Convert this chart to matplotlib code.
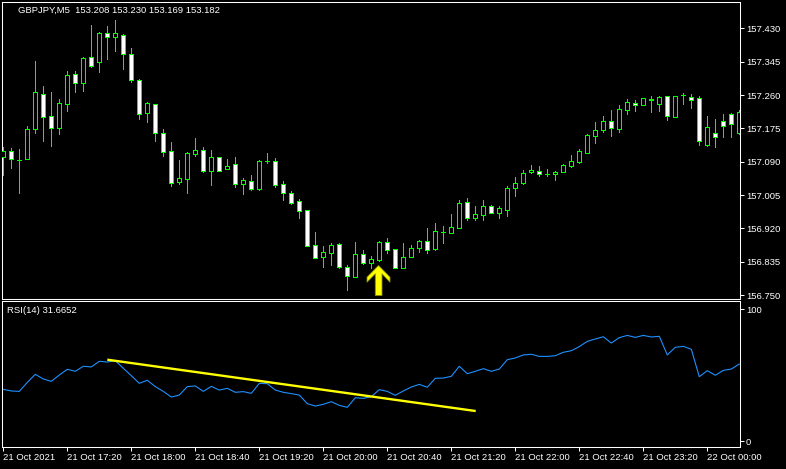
import numpy as np
import matplotlib.pyplot as plt
from matplotlib.path import Path

plt.rcParams['font.family'] = ['Liberation Sans', 'DejaVu Sans']

# GBPJPY M5 bars, 21 Oct 2021 16:40 -> 22 Oct 00:20
opens = [157.101, 157.117, 157.094, 157.098, 157.173, 157.262, 157.206, 157.177, 157.238, 157.313,
         157.290, 157.356, 157.343, 157.417, 157.407, 157.413, 157.365, 157.298, 157.213, 157.236,
         157.162, 157.116, 157.037, 157.045, 157.110, 157.120, 157.067, 157.101, 157.071, 157.083,
         157.034, 157.040, 157.020, 157.091, 157.091, 157.032, 157.009, 156.989, 156.966, 156.877,
         156.848, 156.858, 156.879, 156.821, 156.797, 156.854, 156.832, 156.840, 156.885, 156.867,
         156.820, 156.848, 156.871, 156.888, 156.868, 156.911, 156.909, 156.922, 156.986, 156.947,
         156.955, 156.976, 156.960, 156.967, 157.022, 157.035, 157.063, 157.067, 157.058, 157.058,
         157.064, 157.080, 157.090, 157.112, 157.156, 157.170, 157.193, 157.174, 157.223, 157.239,
         157.234, 157.247, 157.238, 157.257, 157.205, 157.260, 157.256, 157.252, 157.132, 157.162,
         157.194, 157.211, 157.162]
highs = [157.128, 157.125, 157.122, 157.181, 157.347, 157.283, 157.268, 157.250, 157.321, 157.321,
         157.358, 157.439, 157.421, 157.436, 157.451, 157.416, 157.379, 157.301, 157.242, 157.237,
         157.173, 157.139, 157.094, 157.115, 157.150, 157.127, 157.120, 157.101, 157.097, 157.102,
         157.048, 157.056, 157.093, 157.112, 157.099, 157.041, 157.015, 156.995, 156.966, 156.911,
         156.875, 156.882, 156.883, 156.826, 156.885, 156.865, 156.849, 156.888, 156.895, 156.868,
         156.883, 156.878, 156.889, 156.921, 156.934, 156.926, 156.957, 156.992, 156.997, 156.977,
         156.992, 156.980, 156.976, 157.028, 157.050, 157.068, 157.082, 157.079, 157.071, 157.065,
         157.083, 157.107, 157.122, 157.160, 157.191, 157.206, 157.222, 157.234, 157.250, 157.247,
         157.252, 157.257, 157.257, 157.258, 157.258, 157.264, 157.262, 157.257, 157.206, 157.199,
         157.211, 157.213, 157.222]
lows = [157.056, 157.075, 157.011, 157.097, 157.164, 157.143, 157.131, 157.161, 157.219, 157.268,
        157.271, 157.332, 157.319, 157.352, 157.373, 157.326, 157.294, 157.199, 157.192, 157.143,
        157.105, 157.029, 157.032, 157.011, 157.105, 157.064, 157.031, 157.067, 157.071, 157.026,
        157.008, 157.018, 157.018, 157.087, 157.026, 156.992, 156.982, 156.946, 156.875, 156.844,
        156.822, 156.827, 156.820, 156.763, 156.796, 156.830, 156.819, 156.836, 156.857, 156.819,
        156.819, 156.847, 156.860, 156.856, 156.864, 156.883, 156.908, 156.921, 156.941, 156.941,
        156.941, 156.958, 156.946, 156.952, 157.003, 157.034, 157.062, 157.053, 157.054, 157.044,
        157.063, 157.077, 157.086, 157.111, 157.138, 157.166, 157.156, 157.166, 157.212, 157.220,
        157.234, 157.217, 157.220, 157.197, 157.203, 157.238, 157.228, 157.133, 157.131, 157.127,
        157.154, 157.154, 157.161]
closes = [157.117, 157.098, 157.094, 157.173, 157.267, 157.205, 157.177, 157.239, 157.310, 157.290,
          157.354, 157.335, 157.418, 157.407, 157.418, 157.364, 157.297, 157.211, 157.239, 157.162,
          157.115, 157.035, 157.048, 157.111, 157.119, 157.067, 157.101, 157.067, 157.079, 157.032,
          157.042, 157.020, 157.091, 157.091, 157.031, 157.009, 156.985, 156.965, 156.876, 156.845,
          156.859, 156.877, 156.822, 156.799, 156.854, 156.832, 156.842, 156.885, 156.866, 156.820,
          156.847, 156.870, 156.888, 156.866, 156.913, 156.911, 156.923, 156.984, 156.947, 156.956,
          156.976, 156.960, 156.971, 157.022, 157.035, 157.060, 157.069, 157.058, 157.058, 157.064,
          157.082, 157.091, 157.117, 157.158, 157.170, 157.193, 157.175, 157.224, 157.241, 157.234,
          157.252, 157.249, 157.255, 157.206, 157.257, 157.260, 157.246, 157.142, 157.178, 157.154,
          157.180, 157.185, 157.217]

rsi = [39.1, 37.9, 37.6, 44.4, 50.5, 47.0, 45.2, 50.0, 54.3, 52.8,
       56.6, 56.1, 60.4, 59.8, 60.9, 55.1, 49.5, 43.7, 46.0, 41.2,
       37.6, 33.3, 34.8, 41.2, 41.7, 37.6, 41.4, 38.6, 39.9, 36.9,
       37.4, 36.1, 43.7, 43.4, 38.6, 36.9, 35.9, 34.8, 28.3, 26.5,
       27.8, 29.8, 27.0, 25.5, 32.8, 32.3, 33.6, 38.9, 37.6, 34.6,
       37.9, 40.9, 42.9, 40.7, 47.5, 47.7, 49.0, 56.6, 51.0, 52.8,
       54.8, 52.8, 54.5, 61.6, 62.9, 65.2, 65.7, 64.1, 64.1, 64.6,
       67.2, 68.4, 71.5, 75.5, 77.3, 79.0, 74.2, 78.3, 80.0, 78.5,
       80.0, 78.8, 79.3, 65.2, 71.0, 71.7, 69.5, 48.7, 53.3, 49.8,
       53.5, 54.5, 58.3]

trend_bars = [13, 59.05]
trend_rsi = [61.6, 22.7]

arrow_bar = 47
arrow_price = 156.788

price_ticks = [157.430, 157.345, 157.260, 157.175, 157.090, 157.005, 156.920, 156.835, 156.750]
rsi_ticks = [0, 100]
time_ticks = list(range(0, 89, 8))
time_labels = ['21 Oct 2021', '21 Oct 17:20', '21 Oct 18:00', '21 Oct 18:40', '21 Oct 19:20',
               '21 Oct 20:00', '21 Oct 20:40', '21 Oct 21:20', '21 Oct 22:00', '21 Oct 22:40',
               '21 Oct 23:20', '22 Oct 00:00']

chart_title = 'GBPJPY,M5  153.208 153.230 153.169 153.182'
rsi_title = 'RSI(14) 31.6652'

LIME = '#00ff00'
FS = 6.8
W, H = 786, 469


def box(l, t, r, b):
    return [l / W, 1 - b / H, (r - l) / W, (b - t) / H]


fig = plt.figure(figsize=(W / 100, H / 100), dpi=100, facecolor='black')
ax = fig.add_axes(box(2.3, 2.3, 740.3, 299))
ax_rsi = fig.add_axes(box(2.3, 300.7, 740.3, 447.3))

for a in (ax, ax_rsi):
    a.set_facecolor('black')
    a.set_xlim(-0.125, 92.125)
    for s in a.spines.values():
        s.set_color('white')
        s.set_linewidth(0.75)
    a.yaxis.tick_right()
    a.tick_params(axis='y', colors='white', length=2.6, width=0.75, pad=1.4, labelsize=FS)

# candles: hollow = up bar, white = down bar
o = np.array(opens)
c = np.array(closes)
x = np.arange(len(o))
ax.vlines(x, lows, highs, color=LIME, linewidth=0.72, antialiased=False, zorder=2)
ax.bar(x, c - o, bottom=o, width=0.5, color=np.where(c > o, 'black', 'white'),
       edgecolor=LIME, linewidth=0.72, antialiased=False, zorder=3)

# buy arrow (shape in pixels, scaled as a marker)
arrow_verts = [(-1, 15), (10.5, 3.3), (10.5, -1.7), (2.5, 6.7), (2.5, -15), (-4.2, -15),
               (-4.2, 6.7), (-12.5, -1.7), (-12.5, 3.3), (-1, 15)]
arrow = Path(arrow_verts, closed=True)
ax.plot([arrow_bar], [arrow_price], marker=arrow, markersize=21.6, color='#ffff00',
        markeredgecolor='#8c8c00', markeredgewidth=0.6, linestyle='none', zorder=4)

ax.set_ylim(156.7398, 157.4964)
ax.set_yticks(price_ticks)
ax.set_yticklabels([f'{v:.3f}' for v in price_ticks])
ax.tick_params(axis='x', bottom=False, labelbottom=False)

# RSI panel
ax_rsi.plot(x, rsi, color='#1e90ff', linewidth=0.8, zorder=2)
ax_rsi.plot(trend_bars, trend_rsi, color='#ffff00', linewidth=1.7, solid_capstyle='butt', zorder=3)
ax_rsi.set_ylim(-4.77, 106.29)
ax_rsi.set_yticks(rsi_ticks)
ax_rsi.set_yticklabels([str(v) for v in rsi_ticks])
ax_rsi.set_xticks(time_ticks)
ax_rsi.set_xticklabels(time_labels, ha='left')
ax_rsi.tick_params(axis='x', colors='white', length=3, width=0.75, pad=0.8, labelsize=FS)

fig.text(18.3 / W, 1 - 10.7 / H, chart_title, color='white', fontsize=FS, ha='left', va='center')
fig.text(7.3 / W, 1 - 310.7 / H, rsi_title, color='white', fontsize=FS, ha='left', va='center')

fig.savefig('out.png', dpi=100, facecolor='black')
